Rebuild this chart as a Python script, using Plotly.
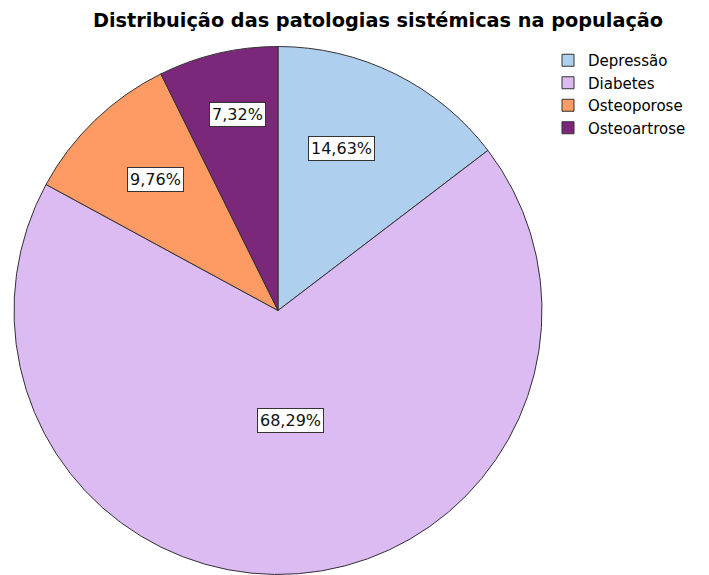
import math
import plotly.graph_objects as go

categories = ["Depressão", "Diabetes", "Osteoporose", "Osteoartrose"]
percentages = [14.63, 68.29, 9.76, 7.32]
title_text = "Distribuição das patologias sistémicas na população"

colors = ["#aecfee", "#dcbaf2", "#fe9a64", "#7b287b"]
label_radius = [0.66, 0.42, 0.68, 0.76]
label_angle_shift = [-5.0, -2.0, 1.0, 1.4]

W, H = 709, 575
dom_x = [14 / W, 542 / W]
dom_y = [0.0, 1 - 46 / H]

fig = go.Figure(go.Pie(
    labels=categories,
    values=percentages,
    sort=False,
    direction="clockwise",
    rotation=0,
    marker=dict(colors=colors, line=dict(color="#333333", width=1)),
    textinfo="none",
    hoverinfo="label+percent",
    domain=dict(x=dom_x, y=dom_y),
))

# pie geometry in pixels (plotly: r = min(w, h)/2, centred in domain)
wpx = (dom_x[1] - dom_x[0]) * W
hpx = (dom_y[1] - dom_y[0]) * H
r = min(wpx, hpx) / 2
cx = (dom_x[0] + dom_x[1]) / 2 * W
cy = (1 - (dom_y[0] + dom_y[1]) / 2) * H

total = sum(percentages)
cum = 0.0
for i, v in enumerate(percentages):
    mid = (cum + v / 2) / total * 360 + label_angle_shift[i]
    cum += v
    a = math.radians(mid)
    px = cx + r * label_radius[i] * math.sin(a)
    py = cy - r * label_radius[i] * math.cos(a)
    fig.add_annotation(
        x=px / W, y=1 - py / H, xref="paper", yref="paper",
        text=f"{v:.2f}%".replace(".", ","),
        showarrow=False,
        font=dict(family="DejaVu Sans", size=16, color="#111111"),
        bgcolor="white", bordercolor="#333333", borderwidth=1, borderpad=2,
        xanchor="center", yanchor="middle",
    )

fig.update_layout(
    width=W, height=H,
    margin=dict(l=0, r=0, t=0, b=0, autoexpand=False),
    paper_bgcolor="white",
    plot_bgcolor="white",
    title=dict(text=f"<b>{title_text}</b>", x=378 / W, xanchor="center",
               y=1 - 20 / H, yanchor="middle",
               font=dict(family="DejaVu Sans", size=19.3, color="#000000")),
    legend=dict(x=548 / W, y=1 - 44 / H, xanchor="left", yanchor="top",
                font=dict(family="DejaVu Sans", size=15, color="#000000"),
                traceorder="normal", itemwidth=30, tracegroupgap=0,
                bgcolor="rgba(0,0,0,0)"),
    showlegend=True,
)

fig.write_html("out.html", config={"displayModeBar": False},
               post_script="document.body.style.margin='0';")
